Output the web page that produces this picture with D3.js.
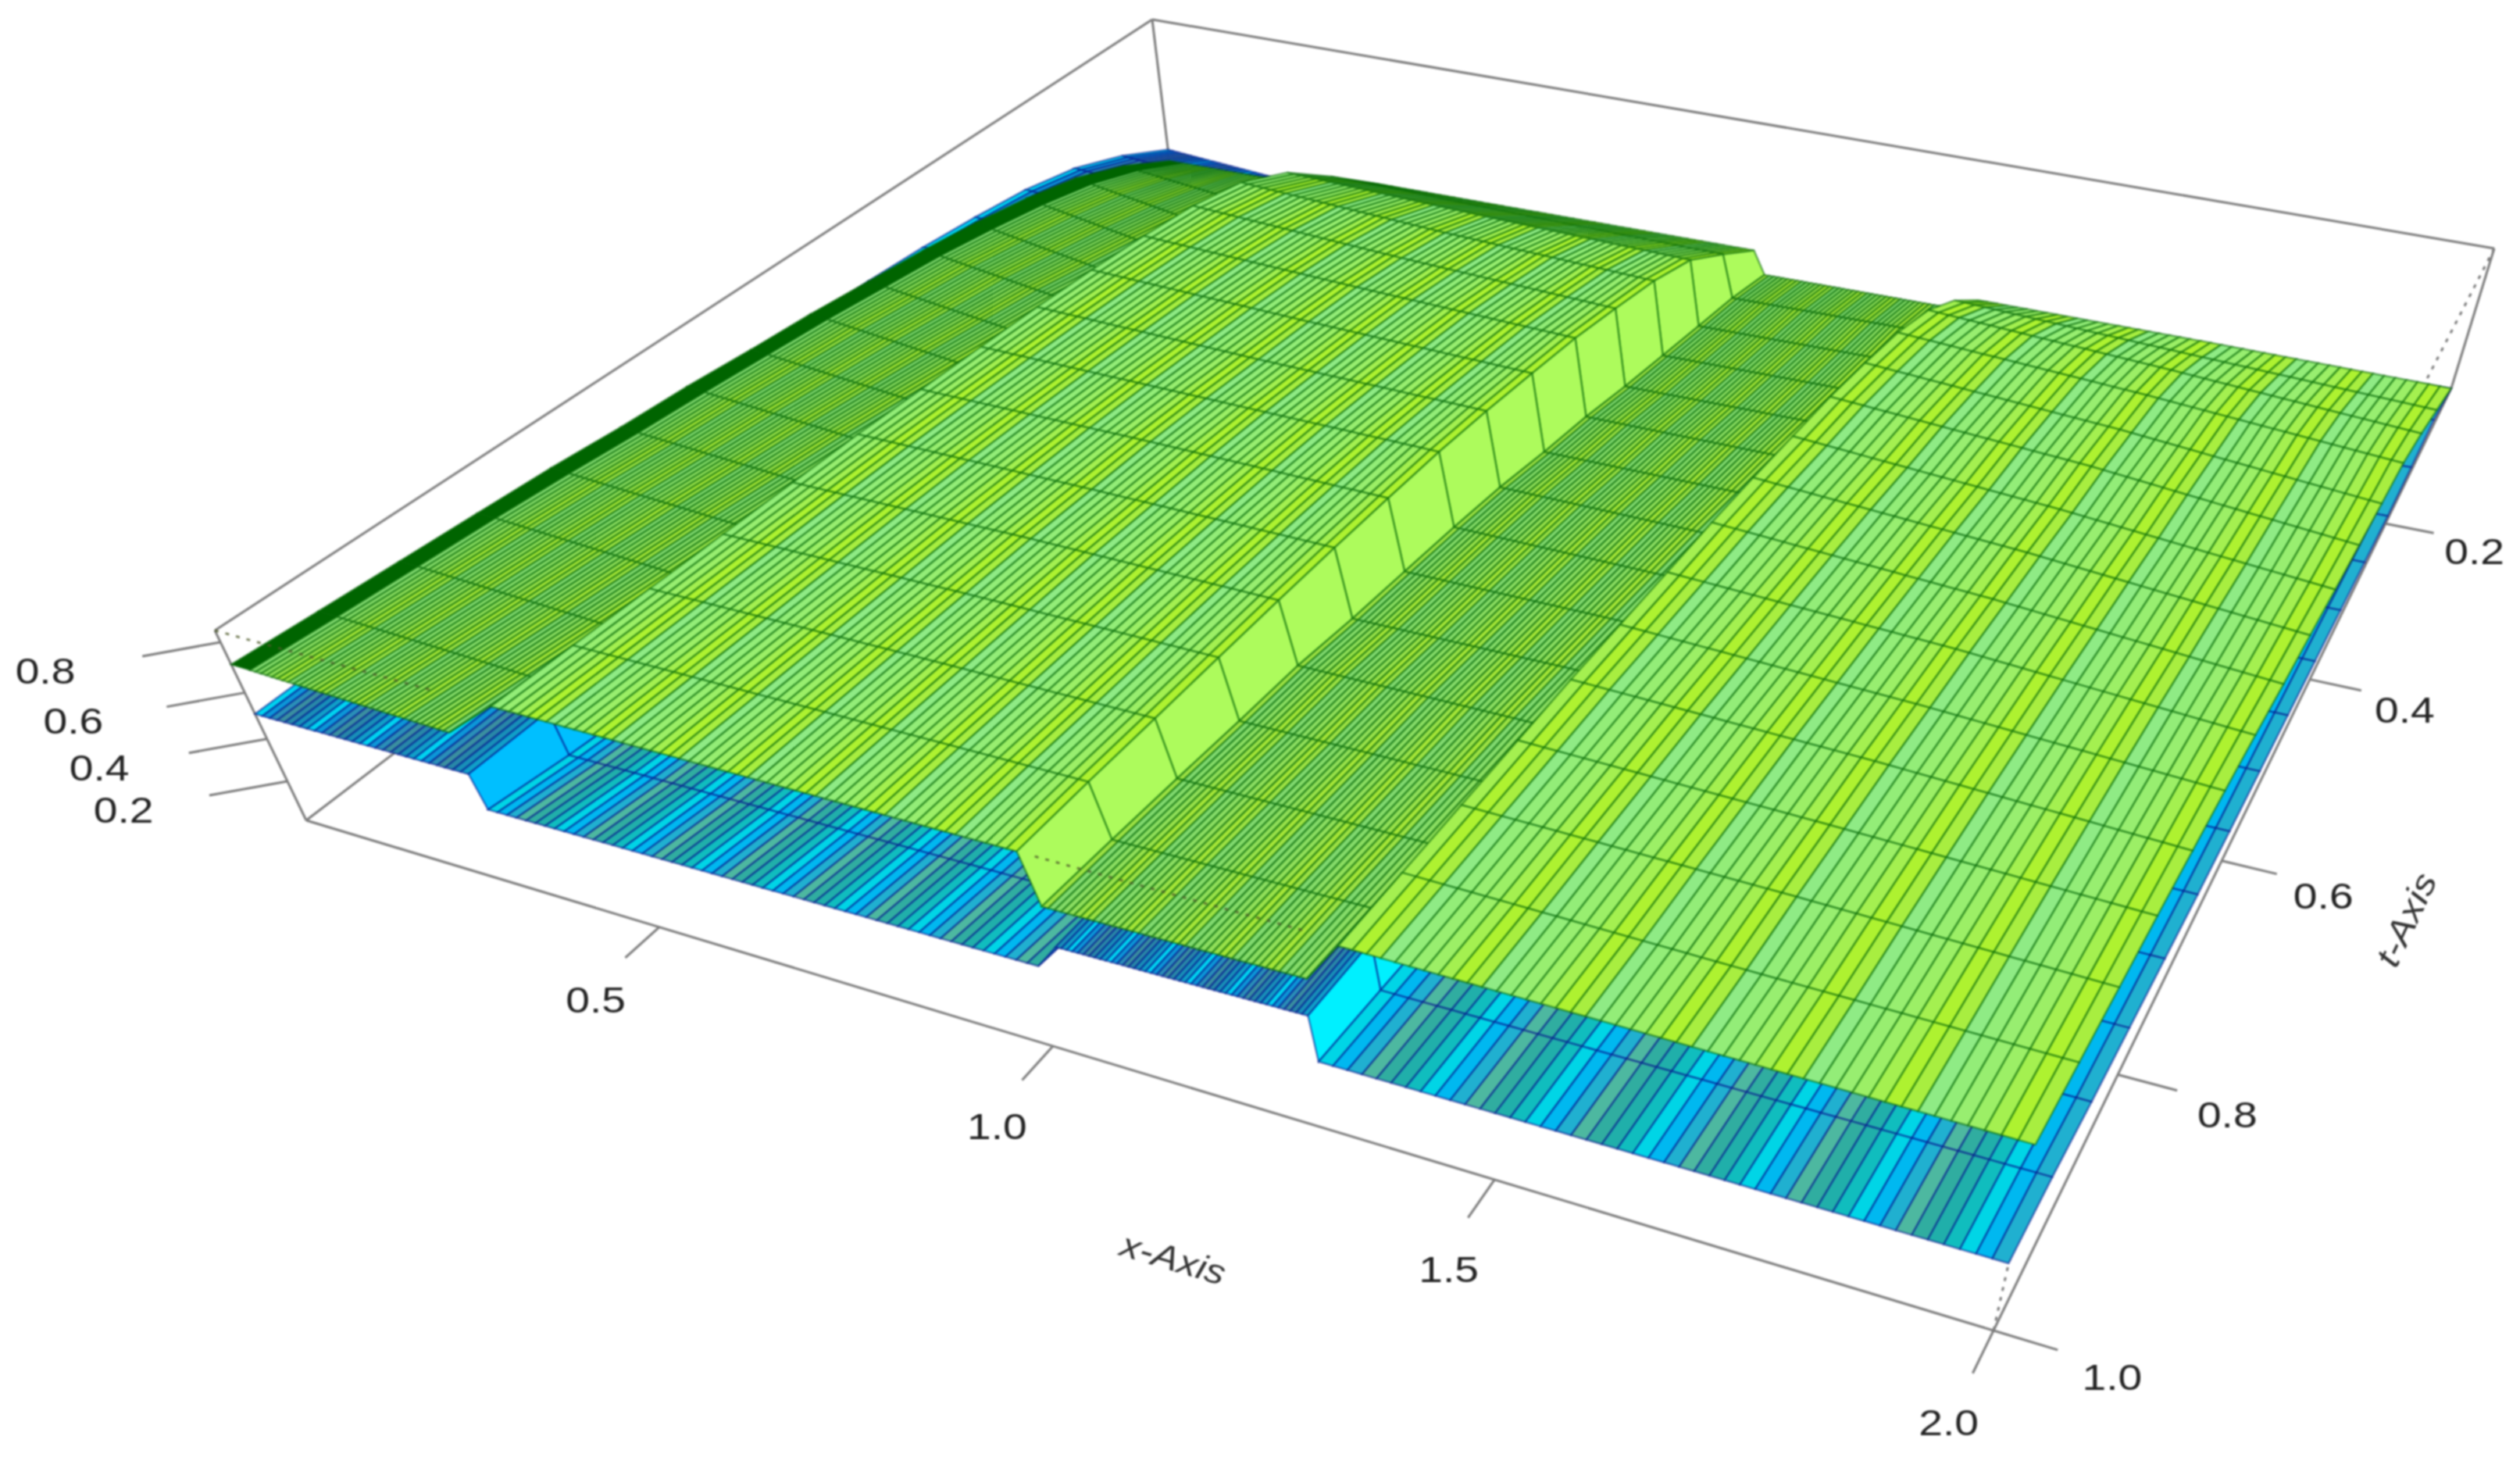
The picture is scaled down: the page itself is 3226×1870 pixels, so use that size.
<!DOCTYPE html>
<html lang="en">
<head>
<meta charset="utf-8">
<script src="https://d3js.org/d3.v7.min.js"></script>
<style type="text/css">
html, body { margin: 0; background: #fff; }
svg { display: block; filter: blur(0.9px); }
.tick-label { font-family: "Liberation Sans", sans-serif; font-size: 46px; fill: #222; text-anchor: middle; dominant-baseline: central; }
.axis-title { font-family: "Liberation Sans", sans-serif; font-size: 44px; font-style: italic; fill: #333; text-anchor: middle; dominant-baseline: central; }
</style>
</head>
<body>
<div class="chart"></div>
<script type="text/javascript">
// tick labels
var xTicks = [0.5, 1.0, 1.5, 2.0];
var tTicks = [0.2, 0.4, 0.6, 0.8, 1.0];
var zTicks = [0.2, 0.4, 0.6, 0.8];

// t rows of both surfaces: t = k/15 for k = 0..15
var tGrid = [0, 0.067, 0.133, 0.2, 0.267, 0.333, 0.4, 0.467, 0.533, 0.6, 0.667, 0.733, 0.8, 0.867, 0.933, 1];

// upper surface (green), one z profile along t per x station
var greenX = [0, 0.026, 0.29, 0.364, 0.68, 0.99, 1.01, 1.30, 1.334, 1.67, 2];
var greenA = [0, .185, .312, .393, .451, .495, .528, .56, .583, .61, .628, .652, .668, .683, .698, .714];
var greenK = [0, .17, .29, .37, .43, .48, .515, .55, .575, .60, .62, .645, .665, .68, .695, .712];
var greenB = [0, .05, .118, .195, .268, .34, .393, .443, .487, .528, .56, .59, .613, .636, .66, .683];
var greenC = [.099, .357, .57, .698, .758, .787, .808, .822, .83, .837, .844, .844, .844, .844, .844, .844];
var greenD = [.099, .33, .528, .636, .698, .743, .772, .794, .815, .83, .837, .844, .844, .844, .844, .844];
var greenE = [.099, .312, .495, .59, .652, .706, .743, .776, .801, .815, .826, .833, .837, .84, .844, .844];
var greenF = [-.06, .04, .108, .176, .241, .312, .366, .427, .469, .503, .535, .575, .594, .617, .636, .652];
var greenG = [-.06, .05, .118, .185, .25, .312, .366, .417, .46, .503, .542, .575, .598, .621, .644, .662];
var greenH = [.03, .286, .46, .56, .621, .668, .698, .729, .751, .765, .78, .794, .801, .808, .815, .822];
var greenI = [.02, .215, .375, .478, .535, .583, .613, .652, .683, .714, .736, .758, .772, .787, .794, .812];
var greenJ = [0, .147, .277, .375, .417, .46, .503, .55, .59, .636, .675, .706, .736, .758, .78, .801];

// lower surface (blue)
var blueX = [0, 0.295, 0.304, 0.65, 0.996, 1.02, 1.30, 1.31, 1.67, 2];
var blueA = [.08, .25, .37, .44, .48, .51, .53, .54, .54, .54, .535, .53, .528, .525, .52, .51];
var blueB = [-.02, .15, .28, .36, .42, .47, .50, .52, .53, .535, .528, .528, .528, .525, .52, .515];
var blueC = [-.03, 0, .02, .04, .06, .08, .099, .118, .147, .175, .205, .233, .27, .305, .33, .366];
var blueD = [-.06, 0, .02, .04, .06, .08, .10, .12, .15, .18, .21, .24, .28, .31, .34, .375];
var blueE = [-.08, 0, .02, .04, .06, .08, .10, .12, .15, .18, .21, .24, .28, .32, .35, .384];
var blueF = [-.08, .05, .2, .34, .42, .46, .47, .478, .478, .478, .478, .478, .485, .485, .49, .495];
var blueG = [-.08, .05, .2, .34, .42, .46, .47, .478, .478, .485, .49, .495, .5, .5, .503, .511];
var blueH = [-.06, .03, .03, .05, .07, .09, .11, .128, .147, .165, .185, .213, .241, .268, .295, .32];
var blueI = [-.02, .04, .03, .05, .07, .09, .11, .128, .147, .165, .185, .213, .241, .268, .30, .322];
var blueJ = [0, .08, .06, .05, .07, .09, .11, .128, .147, .165, .185, .213, .241, .268, .305, .322];

var greenProfiles = [greenA, greenK, greenB, greenC, greenD, greenE, greenF, greenG, greenH, greenI, greenJ];
var blueProfiles = [blueA, blueB, blueC, blueD, blueE, blueF, blueG, blueH, blueI, blueJ];

// drawn columns between stations
var greenCols = [1, 36, 1, 27, 27, 1, 40, 1, 23, 22];
var blueCols = [28, 1, 27, 27, 1, 44, 1, 23, 22];

var greenPalette = ["#8feb85", "#93ed78", "#98ee70", "#9cef66", "#a4f050", "#aef230", "#a8ee40"];
var lowPalette = ["#82da70", "#86dc6a", "#8cde62", "#92e05a", "#9ae24a", "#a6e638", "#9ee244"];
var bluePalette = ["#00d5e6", "#00b8f0", "#20b0d0", "#4db8a0", "#30ada0", "#20afaa", "#10bdbe"];
var deepBluePalette = ["#00d4f0", "#0c98d8", "#2a90b8", "#3a90a0", "#2888a8", "#1890b8", "#10a0c8"];

// columns with a fill of their own: edge band and the steps
var greenFlat = {0: "#006400", 2: "#7cd06c", 5: "#adfb5c", 7: "#6cc870"};
var blueFlat = {1: "#00bfff", 4: "#1c78c0", 6: "#00f0ff"};
var greenShades = {1: lowPalette, 6: lowPalette};
var blueShades = {0: deepBluePalette, 5: deepBluePalette};
// these steps rise away from the viewer, only their last row can be seen
var greenHidden = {2: true, 7: true};

var width = 3226, height = 1870;
var zTop = 0.844;

var xScale = d3.scaleLinear().domain([0, 2]).range([0, 1]);
var tScale = d3.scaleLinear().domain([0, 1]).range([0, 1]);
// the z axis is foreshortened a little
var zScale = d3.scaleLinear().domain([0, zTop]).range([0, zTop * 0.9885]);
function zFrac(z) { return zScale(z) / (1 - 0.1966 * z); }

// maps the unit square on four screen corners: p00, p10, p11, p01
function quadMap(p00, p10, p11, p01) {
	var d1x = p10[0] - p11[0], d1y = p10[1] - p11[1];
	var d2x = p01[0] - p11[0], d2y = p01[1] - p11[1];
	var sx = p00[0] - p10[0] + p11[0] - p01[0];
	var sy = p00[1] - p10[1] + p11[1] - p01[1];
	var det = d1x * d2y - d2x * d1y;
	var g = (sx * d2y - d2x * sy) / det;
	var h = (d1x * sy - sx * d1y) / det;
	return function(u, v) {
		var w = 1 + g * u + h * v;
		return [
			(p00[0] + (p10[0] * (1 + g) - p00[0]) * u + (p01[0] * (1 + h) - p00[0]) * v) / w,
			(p00[1] + (p10[1] * (1 + g) - p00[1]) * u + (p01[1] * (1 + h) - p00[1]) * v) / w
		];
	};
}

// box corners as seen on the screen
var floorMap = quadMap([1497, 206], [3138, 497], [2552, 1703], [392, 1050]);
var roofMap = quadMap([1475, 25], [3193, 318], [2609, 1450], [275, 807]);

function project(x, t, z) {
	var u = xScale(x), v = tScale(t), f = zFrac(z);
	var a = floorMap(u, v), b = roofMap(u, v);
	return [a[0] + (b[0] - a[0]) * f, a[1] + (b[1] - a[1]) * f];
}

var line = d3.line();
var svg = d3.select(".chart").append("svg")
	.attr("width", width)
	.attr("height", height);
svg.append("rect").attr("width", width).attr("height", height).style("fill", "#fff");

function edge(g, a, b) {
	return g.append("path")
		.attr("d", line([project(a[0], a[1], a[2]), project(b[0], b[1], b[2])]))
		.style("fill", "none")
		.style("stroke", "#7d7d7d")
		.style("stroke-width", 3);
}

// box goes under the surfaces
var box = svg.append("g");
edge(box, [0, 0, zTop], [2, 0, zTop]);
edge(box, [0, 0, zTop], [0, 1, zTop]);
edge(box, [0, 0, 0], [0, 0, zTop]);
edge(box, [2, 0, 0], [2, 0, zTop]);
edge(box, [0, 1, 0], [0, 1, zTop]);
edge(box, [0, 1, 0], [2, 1, 0]);
edge(box, [2, 1, 0], [2, 0, 0]);
edge(box, [0, 1, 0], [0, 0, 0]);
edge(box, [2, 1, 0], [2, 1, zTop]).style("stroke-dasharray", "5 8");
edge(box, [2, 0, zTop], [2, 1, zTop]).style("stroke-dasharray", "5 8");

// one surface: columns from x = 0 up, rows from t = 0 up, so the nearest cells paint last
function drawSurface(stationX, profiles, cols, palette, flat, shades, hidden, lineColor) {
	var g = svg.append("g");
	var cells = [];
	var colour = 0;
	cols.forEach(function(n, gap) {
		var x0 = d3.scaleLinear().domain([0, 1]).range([stationX[gap], stationX[gap + 1]]);
		d3.range(n).forEach(function(i) {
			var a = i / n, b = (i + 1) / n;
			var fill = flat[gap] || (shades[gap] || palette)[colour++ % palette.length];
			tGrid.slice(1).forEach(function(t, r) {
				if (hidden[gap] && r < tGrid.length - 2) return;
				var p0 = profiles[gap], p1 = profiles[gap + 1];
				var z = function(s, k) { return p0[k] + (p1[k] - p0[k]) * s; };
				cells.push({
					fill: fill,
					pts: [
						project(x0(a), tGrid[r], z(a, r)),
						project(x0(b), tGrid[r], z(b, r)),
						project(x0(b), t, z(b, r + 1)),
						project(x0(a), t, z(a, r + 1))
					]
				});
			});
		});
	});
	g.selectAll("path")
		.data(cells)
		.enter()
		.append("path")
		.attr("d", function(d) { return line(d.pts) + "Z"; })
		.style("fill", function(d) { return d.fill; })
		.style("stroke", lineColor)
		.style("stroke-opacity", 0.58)
		.style("stroke-width", 2.3);
}

drawSurface(blueX, blueProfiles, blueCols, bluePalette, blueFlat, blueShades, {}, "#00108b");
drawSurface(greenX, greenProfiles, greenCols, greenPalette, greenFlat, greenShades, greenHidden, "#006400");

// front top edge only shows over the low parts of the upper surface
[[0, 0.29], [1.01, 1.30]].forEach(function(r) {
	edge(svg, [r[0], 1, zTop], [r[1], 1, zTop])
		.style("stroke", "#4d5a2a")
		.style("stroke-opacity", 0.75)
		.style("stroke-dasharray", "5 9");
});

// ticks and labels
var axes = svg.append("g");
var fmt = d3.format(".1f");

function label(pos, text) {
	axes.append("text")
		.attr("class", "tick-label")
		.attr("transform", "translate(" + pos[0] + "," + pos[1] + ") scale(1.2,1)")
		.text(text);
}

xTicks.forEach(function(v) {
	edge(axes, [v, 1, 0], [v, 1.03, 0]);
	var p = project(v, 1.07, 0);
	label([p[0] + 22 - (v === 2 ? 16 : 0), p[1] - (v === 2 ? 12 : 0)], fmt(v));
});
tTicks.forEach(function(v) {
	edge(axes, [2, v, 0], [2.06, v, 0]);
	var p = project(2.11, v, 0);
	label([p[0], p[1] + 14], fmt(v));
});
zTicks.forEach(function(v) {
	var p = project(0, 1, v);
	axes.append("path")
		.attr("d", line([p, [p[0] - 100, p[1] + 18]]))
		.style("fill", "none")
		.style("stroke", "#7d7d7d")
		.style("stroke-width", 3);
	label([p[0] - 205 - 24 * v, p[1] + 37], fmt(v));
});

axes.append("text")
	.attr("class", "axis-title")
	.attr("transform", "translate(1502,1611) rotate(16.5) scale(1.15,1)")
	.text("x-Axis");
axes.append("text")
	.attr("class", "axis-title")
	.attr("transform", "translate(3080,1177) rotate(-65) scale(1.15,1)")
	.text("t-Axis");
</script>
</body>
</html>
